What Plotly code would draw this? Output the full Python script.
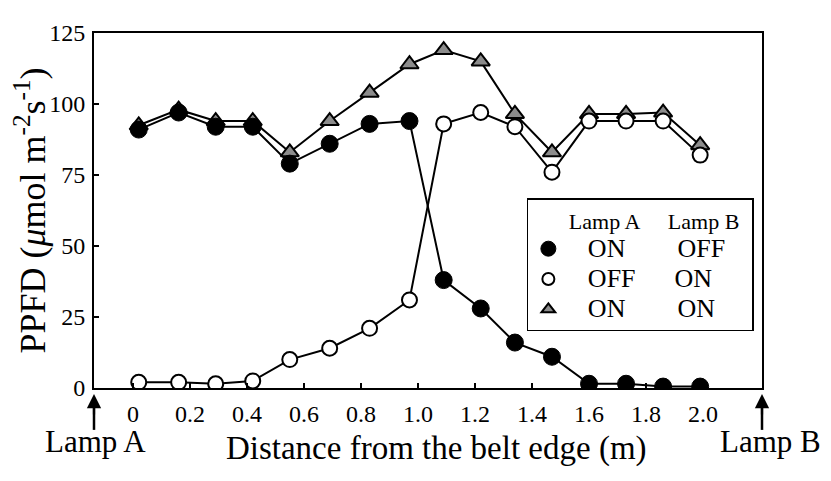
import plotly.graph_objects as go

# ---- data ----
distance_m = [0.02, 0.16, 0.29, 0.42, 0.55, 0.69, 0.83, 0.97,
              1.09, 1.22, 1.34, 1.47, 1.60, 1.73, 1.86, 1.99]
ppfd_a_on_b_off = [91, 97, 92, 92, 79, 86, 93, 94,
                   38, 28, 16, 11, 1.5, 1.5, 0.5, 0.5]
ppfd_a_off_b_on = [2, 2, 1.5, 2.5, 10, 14, 21, 31,
                   93, 97, 92, 76, 94, 94, 94, 82]
ppfd_a_on_b_on = [92.5, 98, 94, 94, 83, 94, 104, 114,
                  119, 115, 96.5, 83, 96.5, 96.5, 97, 85.5]

x_tick_vals = [0, 0.2, 0.4, 0.6, 0.8, 1.0, 1.2, 1.4, 1.6, 1.8, 2.0]
x_tick_text = ["0", "0.2", "0.4", "0.6", "0.8", "1.0", "1.2", "1.4", "1.6", "1.8", "2.0"]
y_tick_vals = [0, 25, 50, 75, 100, 125]

legend_lamp_a = ["ON", "OFF", "ON"]
legend_lamp_b = ["OFF", "ON", "ON"]

FONT = "Liberation Serif"
NB = "&nbsp;"

fig = go.Figure()

# data traces (legend hidden; a marker-only legend is added below)
fig.add_trace(go.Scatter(
    x=distance_m, y=ppfd_a_on_b_on, mode="lines+markers", showlegend=False,
    line=dict(color="black", width=2),
    marker=dict(symbol="triangle-up", size=16, color="#8c8c8c",
                line=dict(color="black", width=2))))
fig.add_trace(go.Scatter(
    x=distance_m, y=ppfd_a_on_b_off, mode="lines+markers", showlegend=False,
    line=dict(color="black", width=2),
    marker=dict(symbol="circle", size=17, color="black",
                line=dict(color="black", width=1))))
fig.add_trace(go.Scatter(
    x=distance_m, y=ppfd_a_off_b_on, mode="lines+markers", showlegend=False,
    line=dict(color="black", width=2),
    marker=dict(symbol="circle", size=15, color="white",
                line=dict(color="black", width=2))))

# legend entries (markers only)
def leg_name(a, b):
    gap = 8 if a == "ON" else 6
    return ('<span style="font-size:26px">' + NB * 3 + a + NB * gap + b + '</span>')

legend_styles = [
    dict(symbol="circle", size=15, color="black", line=dict(color="black", width=1)),
    dict(symbol="circle", size=12, color="white", line=dict(color="black", width=2)),
    dict(symbol="triangle-up", size=12, color="#8c8c8c", line=dict(color="black", width=2)),
]
for a, b, st in zip(legend_lamp_a, legend_lamp_b, legend_styles):
    fig.add_trace(go.Scatter(x=[None], y=[None], mode="markers",
                             name=leg_name(a, b), marker=st))

# lamp arrows (shaft + head pointing up to the plot edges) and labels
for xp in [0, 1]:
    fig.add_shape(type="line", xref="paper", yref="paper", layer="above",
                  x0=xp, x1=xp, y0=-0.035, y1=-0.118,
                  line=dict(color="black", width=2.5))
    fig.add_annotation(xref="paper", yref="paper", x=xp, y=-0.017, text="",
                       showarrow=True, ax=0, ay=22, axref="pixel", ayref="pixel",
                       standoff=0, startstandoff=0,
                       arrowhead=2, arrowsize=1.3, arrowwidth=2.2, arrowcolor="black")
fig.add_annotation(xref="paper", yref="paper", x=0, y=-0.152, text="Lamp A",
                   showarrow=False, xanchor="center", yanchor="middle", xshift=1,
                   font=dict(family=FONT, size=31, color="black"))
fig.add_annotation(xref="paper", yref="paper", x=1, y=-0.152, text="Lamp B",
                   showarrow=False, xanchor="right", yanchor="middle", xshift=61,
                   font=dict(family=FONT, size=31, color="black"))

# the page body adds an 8 px margin, so the figure is 16 px smaller than the window
fig.update_layout(
    width=815, height=465,
    margin=dict(l=86, r=61, t=15, b=85),
    paper_bgcolor="white", plot_bgcolor="white",
    font=dict(family=FONT, color="black"),
    legend=dict(
        x=0.648, y=0.534, xanchor="left", yanchor="top",
        bgcolor="white", bordercolor="black", borderwidth=1.5,
        font=dict(family=FONT, size=21, color="black"),
        title=dict(text=NB * 7 + "Lamp A" + NB * 5 + "Lamp B" + NB * 2,
                   font=dict(family=FONT, size=22, color="black")),
        itemclick=False, itemdoubleclick=False,
    ),
    xaxis=dict(
        range=[-0.137, 2.207], tickmode="array", tickvals=x_tick_vals, ticktext=x_tick_text,
        ticks="inside", ticklen=5, tickwidth=1.5, tickcolor="black",
        showline=True, linecolor="black", linewidth=2, mirror=True,
        showgrid=False, zeroline=False,
        tickfont=dict(family=FONT, size=24, color="black"),
        ticklabelstandoff=3,
        title=dict(text=NB * 2 + "Distance from the belt edge (m)", standoff=10,
                   font=dict(family=FONT, size=33, color="black")),
    ),
    yaxis=dict(
        range=[0, 125], tickmode="array", tickvals=y_tick_vals,
        ticks="inside", ticklen=5, tickwidth=1.5, tickcolor="black",
        showline=True, linecolor="black", linewidth=2, mirror=True,
        showgrid=False, zeroline=False,
        tickfont=dict(family=FONT, size=24, color="black"),
        ticklabelstandoff=2,
        title=dict(text="PPFD (<i>μ</i>mol m<sup>-2</sup>s<sup>-1</sup>)", standoff=4,
                   font=dict(family=FONT, size=36, color="black")),
    ),
)

fig.write_html("out.html")
